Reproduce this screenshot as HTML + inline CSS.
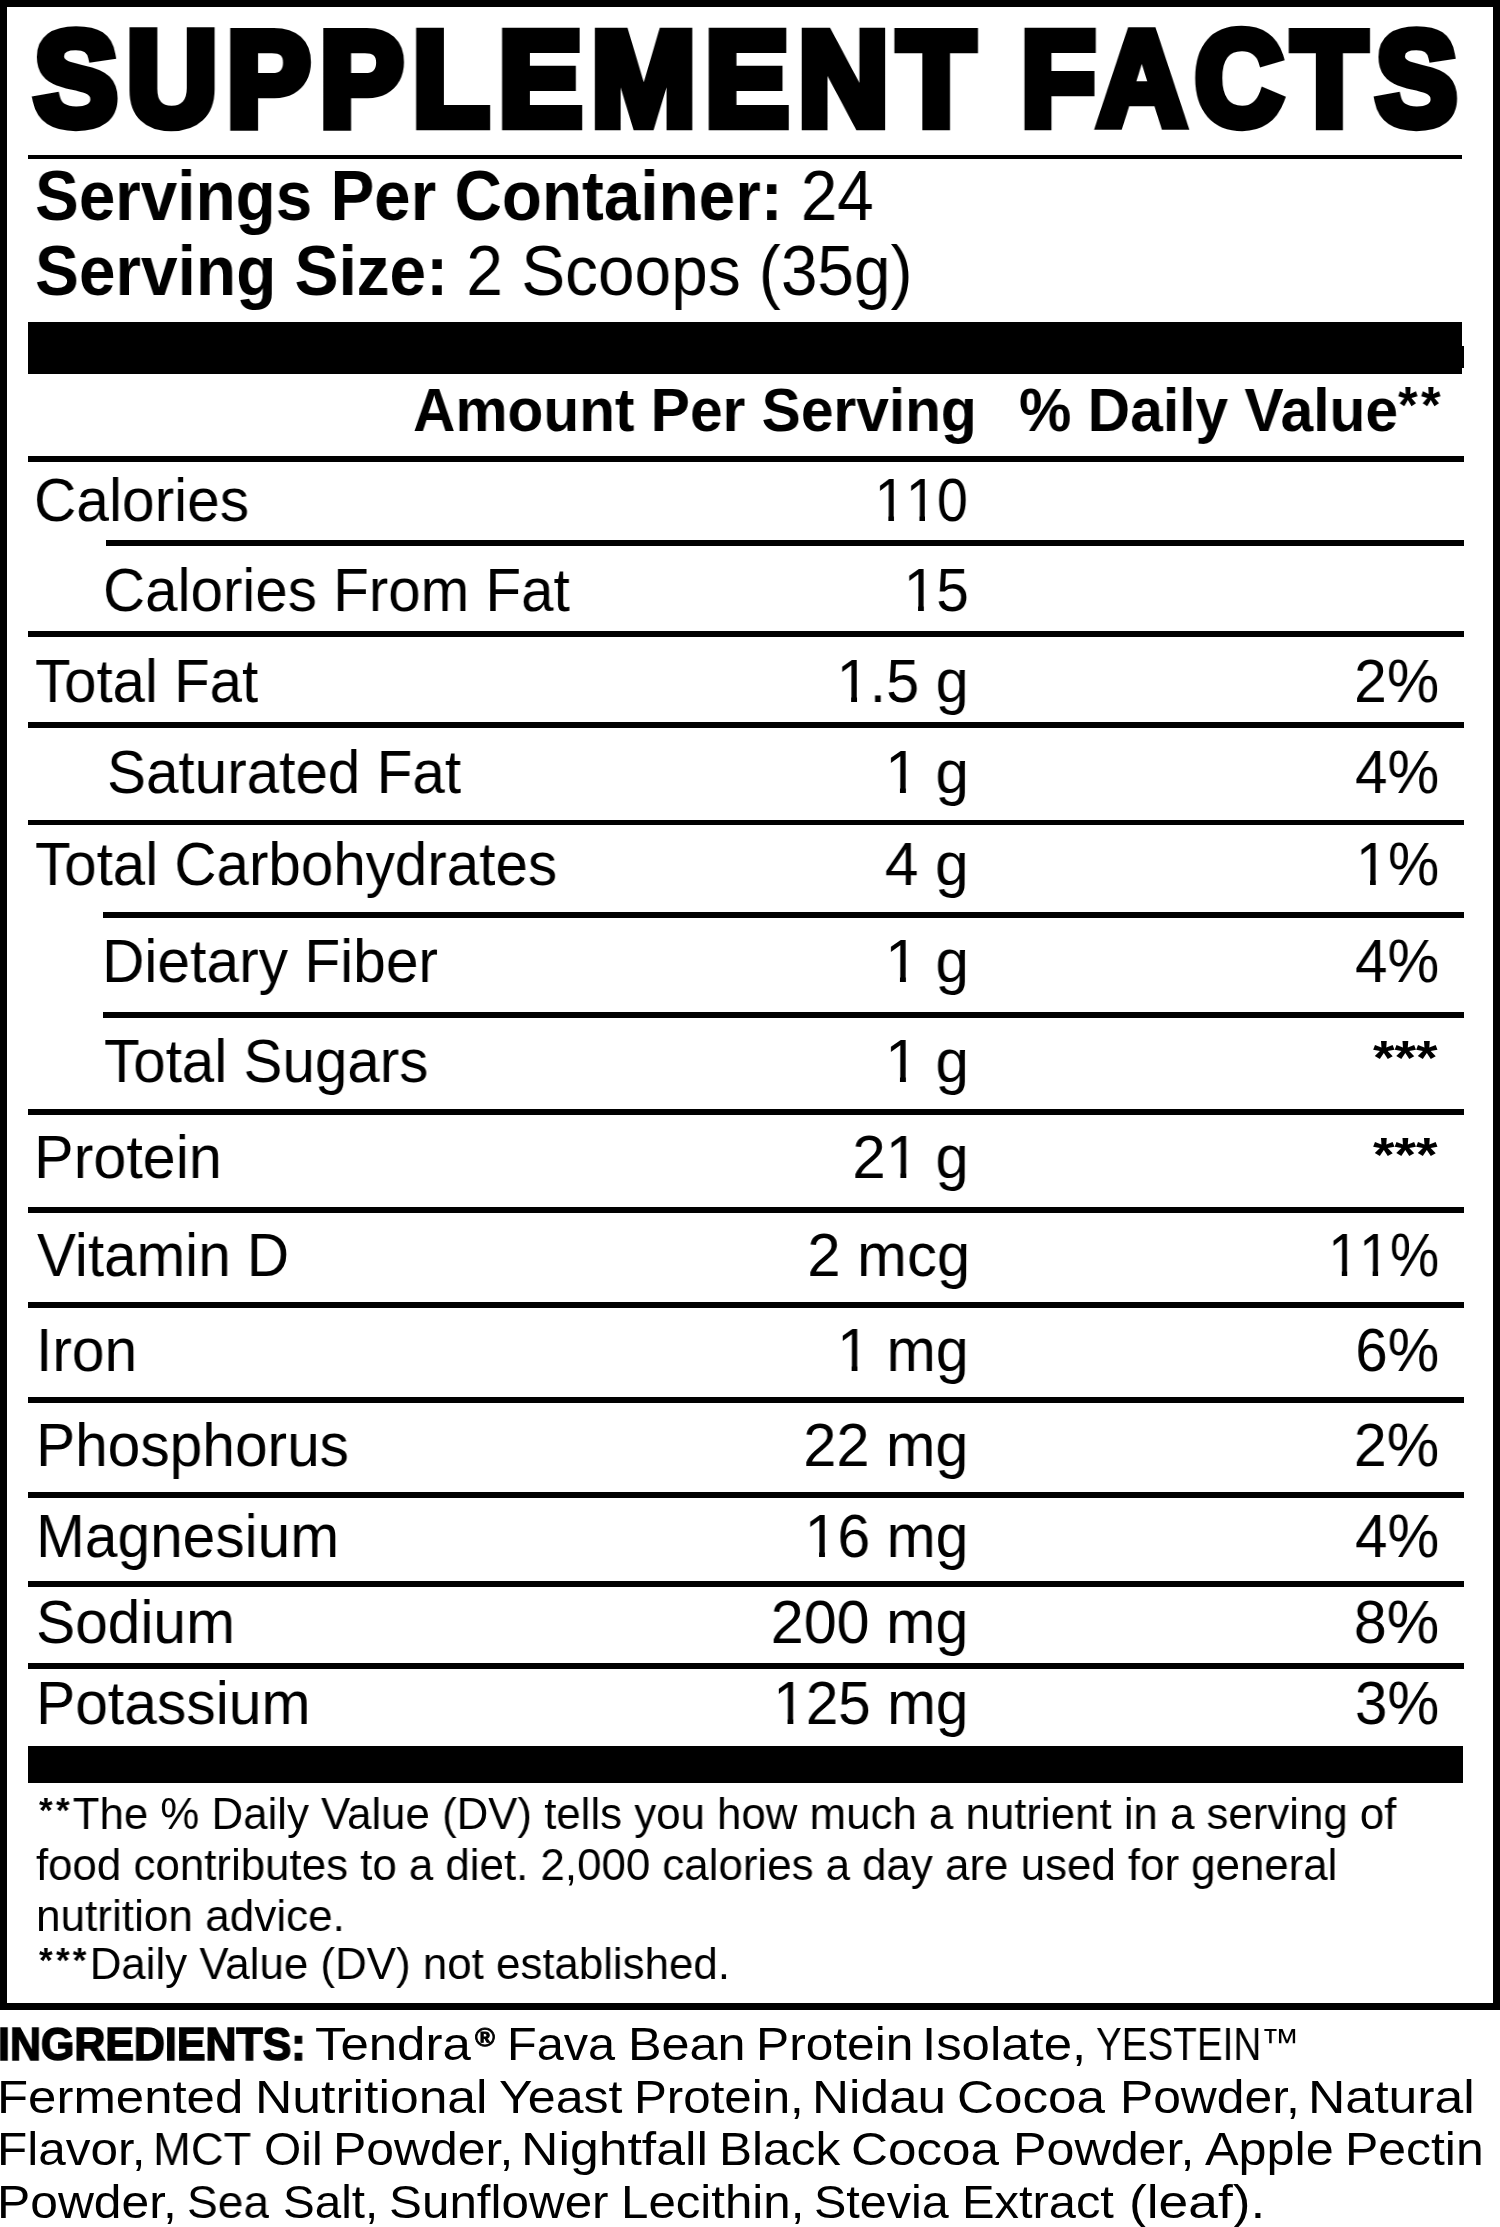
<!DOCTYPE html>
<html><head><meta charset="utf-8"><style>
html,body{margin:0;padding:0;background:#fff;width:1500px;height:2227px;overflow:hidden}
body{position:relative;font-family:"Liberation Sans",sans-serif;color:#000}
.t{position:absolute;white-space:nowrap;font-family:"Liberation Sans",sans-serif;will-change:transform}
.t b{font-weight:bold}
.r{position:absolute;background:#000}
.ast{font-weight:bold;font-size:0.8em;position:relative;top:-0.205em;letter-spacing:3.3px}
.ast2{font-size:0.852em;position:relative;top:-0.16em;letter-spacing:3.6px}
.one{display:inline-block;clip-path:polygon(-1em -1em,2em -1em,2em 0.74em,0.345em 0.74em,0.345em 2em,0.246em 2em,0.246em 0.74em,-1em 0.74em)}
</style></head><body>
<div style="position:absolute;left:0;top:0;width:1500px;height:2009.5px;border:7.5px solid #000;box-sizing:border-box"></div>
<div class="r" style="left:28.00px;top:155.00px;width:1434.00px;height:4.20px"></div>
<div class="r" style="left:28.00px;top:322.00px;width:1434.00px;height:52.00px"></div>
<div class="r" style="left:28.00px;top:456.30px;width:1435.60px;height:5.80px"></div>
<div class="r" style="left:106.00px;top:540.30px;width:1357.60px;height:5.80px"></div>
<div class="r" style="left:27.70px;top:631.20px;width:1435.90px;height:5.80px"></div>
<div class="r" style="left:27.70px;top:722.00px;width:1435.90px;height:5.80px"></div>
<div class="r" style="left:27.70px;top:819.70px;width:1435.90px;height:5.80px"></div>
<div class="r" style="left:103.00px;top:912.00px;width:1360.60px;height:5.80px"></div>
<div class="r" style="left:103.00px;top:1012.00px;width:1360.60px;height:5.80px"></div>
<div class="r" style="left:27.60px;top:1109.10px;width:1436.00px;height:5.80px"></div>
<div class="r" style="left:27.60px;top:1207.00px;width:1436.00px;height:5.80px"></div>
<div class="r" style="left:27.60px;top:1302.00px;width:1436.00px;height:5.80px"></div>
<div class="r" style="left:27.60px;top:1397.00px;width:1436.00px;height:5.80px"></div>
<div class="r" style="left:27.60px;top:1492.00px;width:1436.00px;height:5.80px"></div>
<div class="r" style="left:27.60px;top:1581.10px;width:1436.00px;height:5.80px"></div>
<div class="r" style="left:27.60px;top:1663.10px;width:1436.00px;height:5.80px"></div>
<div class="r" style="left:1462.00px;top:346.00px;width:1.60px;height:22.00px"></div>
<div class="r" style="left:27.90px;top:1746.00px;width:1435.60px;height:37.30px"></div>
<div class="t" style="font-size:132.80px;line-height:132.80px;top:13.16px;-webkit-text-stroke:10.30px #000;letter-spacing:9.80px;left:34.01px;transform:scaleX(0.9446);transform-origin:0 0;"><b>SUPPLEMENT</b></div>
<div class="t" style="font-size:132.80px;line-height:132.80px;top:13.16px;-webkit-text-stroke:10.30px #000;letter-spacing:9.80px;left:1020.88px;transform:scaleX(0.9189);transform-origin:0 0;"><b>FACTS</b></div>
<div class="t" style="font-size:70.00px;line-height:70.00px;top:161.33px;left:35.04px;transform:scaleX(0.9374);transform-origin:0 0;"><b>Servings Per Container:</b> 24</div>
<div class="t" style="font-size:70.00px;line-height:70.00px;top:236.33px;left:35.05px;transform:scaleX(0.9397);transform-origin:0 0;"><b>Serving Size:</b> 2 Scoops (35g)</div>
<div class="t" style="font-size:61.50px;line-height:61.50px;top:378.63px;left:412.80px;transform:scaleX(0.9537);transform-origin:0 0;"><b>Amount Per Serving</b></div>
<div class="t" style="font-size:61.50px;line-height:61.50px;top:378.63px;left:1018.57px;transform:scaleX(0.9561);transform-origin:0 0;"><b>% Daily Value<span class="ast2">**</span></b></div>
<div class="t" style="font-size:61.00px;line-height:61.00px;top:469.85px;left:33.93px;transform:scaleX(0.9614);transform-origin:0 0;">Calories</div>
<div class="t" style="font-size:61.00px;line-height:61.00px;top:469.85px;right:532.26px;transform:scaleX(0.9152);transform-origin:100% 0;"><span class="one">1</span><span class="one">1</span>0</div>
<div class="t" style="font-size:61.00px;line-height:61.00px;top:560.35px;left:103.29px;transform:scaleX(0.9561);transform-origin:0 0;">Calories From Fat</div>
<div class="t" style="font-size:61.00px;line-height:61.00px;top:560.35px;right:531.21px;transform:scaleX(0.9617);transform-origin:100% 0;"><span class="one">1</span>5</div>
<div class="t" style="font-size:61.00px;line-height:61.00px;top:650.65px;left:34.79px;transform:scaleX(0.9542);transform-origin:0 0;">Total Fat</div>
<div class="t" style="font-size:61.00px;line-height:61.00px;top:650.65px;right:531.28px;transform:scaleX(0.9742);transform-origin:100% 0;"><span class="one">1</span>.5 g</div>
<div class="t" style="font-size:61.00px;line-height:61.00px;top:650.65px;right:60.85px;transform:scaleX(0.9654);transform-origin:100% 0;">2%</div>
<div class="t" style="font-size:61.00px;line-height:61.00px;top:742.35px;left:106.97px;transform:scaleX(0.9579);transform-origin:0 0;">Saturated Fat</div>
<div class="t" style="font-size:61.00px;line-height:61.00px;top:742.35px;right:531.09px;transform:scaleX(0.9868);transform-origin:100% 0;"><span class="one">1</span> g</div>
<div class="t" style="font-size:61.00px;line-height:61.00px;top:742.35px;right:60.90px;transform:scaleX(0.9543);transform-origin:100% 0;">4%</div>
<div class="t" style="font-size:61.00px;line-height:61.00px;top:834.35px;left:34.99px;transform:scaleX(0.9563);transform-origin:0 0;">Total Carbohydrates</div>
<div class="t" style="font-size:61.00px;line-height:61.00px;top:834.35px;right:531.18px;transform:scaleX(0.9904);transform-origin:100% 0;">4 g</div>
<div class="t" style="font-size:61.00px;line-height:61.00px;top:834.35px;right:60.78px;transform:scaleX(0.9448);transform-origin:100% 0;"><span class="one">1</span>%</div>
<div class="t" style="font-size:61.00px;line-height:61.00px;top:931.15px;left:102.49px;transform:scaleX(0.9623);transform-origin:0 0;">Dietary Fiber</div>
<div class="t" style="font-size:61.00px;line-height:61.00px;top:931.15px;right:531.09px;transform:scaleX(0.9868);transform-origin:100% 0;"><span class="one">1</span> g</div>
<div class="t" style="font-size:61.00px;line-height:61.00px;top:931.15px;right:60.90px;transform:scaleX(0.9543);transform-origin:100% 0;">4%</div>
<div class="t" style="font-size:61.00px;line-height:61.00px;top:1030.85px;left:103.59px;transform:scaleX(0.9568);transform-origin:0 0;">Total Sugars</div>
<div class="t" style="font-size:61.00px;line-height:61.00px;top:1030.85px;right:531.09px;transform:scaleX(0.9868);transform-origin:100% 0;"><span class="one">1</span> g</div>
<div class="t" style="font-size:48.40px;line-height:48.40px;top:1033.32px;right:62.51px;transform:scaleX(1.1435);transform-origin:100% 0;"><b>***</b></div>
<div class="t" style="font-size:61.00px;line-height:61.00px;top:1127.15px;left:33.80px;transform:scaleX(0.9722);transform-origin:0 0;">Protein</div>
<div class="t" style="font-size:61.00px;line-height:61.00px;top:1127.15px;right:531.26px;transform:scaleX(0.9800);transform-origin:100% 0;">2<span class="one">1</span> g</div>
<div class="t" style="font-size:48.40px;line-height:48.40px;top:1129.62px;right:62.51px;transform:scaleX(1.1435);transform-origin:100% 0;"><b>***</b></div>
<div class="t" style="font-size:61.00px;line-height:61.00px;top:1224.95px;left:37.00px;transform:scaleX(0.9573);transform-origin:0 0;">Vitamin D</div>
<div class="t" style="font-size:61.00px;line-height:61.00px;top:1224.95px;right:530.26px;transform:scaleX(0.9802);transform-origin:100% 0;">2 mcg</div>
<div class="t" style="font-size:61.00px;line-height:61.00px;top:1224.95px;right:60.94px;transform:scaleX(0.9089);transform-origin:100% 0;"><span class="one">1</span><span class="one">1</span>%</div>
<div class="t" style="font-size:61.00px;line-height:61.00px;top:1320.35px;left:36.28px;transform:scaleX(0.9621);transform-origin:0 0;">Iron</div>
<div class="t" style="font-size:61.00px;line-height:61.00px;top:1320.35px;right:531.25px;transform:scaleX(0.9703);transform-origin:100% 0;"><span class="one">1</span> mg</div>
<div class="t" style="font-size:61.00px;line-height:61.00px;top:1320.35px;right:60.90px;transform:scaleX(0.9501);transform-origin:100% 0;">6%</div>
<div class="t" style="font-size:61.00px;line-height:61.00px;top:1415.35px;left:35.91px;transform:scaleX(0.9613);transform-origin:0 0;">Phosphorus</div>
<div class="t" style="font-size:61.00px;line-height:61.00px;top:1415.35px;right:531.34px;transform:scaleX(0.9748);transform-origin:100% 0;">22 mg</div>
<div class="t" style="font-size:61.00px;line-height:61.00px;top:1415.35px;right:60.85px;transform:scaleX(0.9681);transform-origin:100% 0;">2%</div>
<div class="t" style="font-size:61.00px;line-height:61.00px;top:1506.35px;left:35.99px;transform:scaleX(0.9613);transform-origin:0 0;">Magnesium</div>
<div class="t" style="font-size:61.00px;line-height:61.00px;top:1506.35px;right:531.32px;transform:scaleX(0.9672);transform-origin:100% 0;"><span class="one">1</span>6 mg</div>
<div class="t" style="font-size:61.00px;line-height:61.00px;top:1506.35px;right:60.90px;transform:scaleX(0.9543);transform-origin:100% 0;">4%</div>
<div class="t" style="font-size:61.00px;line-height:61.00px;top:1591.55px;left:36.11px;transform:scaleX(0.9622);transform-origin:0 0;">Sodium</div>
<div class="t" style="font-size:61.00px;line-height:61.00px;top:1591.55px;right:531.32px;transform:scaleX(0.9721);transform-origin:100% 0;">200 mg</div>
<div class="t" style="font-size:61.00px;line-height:61.00px;top:1591.55px;right:60.85px;transform:scaleX(0.9681);transform-origin:100% 0;">8%</div>
<div class="t" style="font-size:61.00px;line-height:61.00px;top:1673.25px;left:36.46px;transform:scaleX(0.9636);transform-origin:0 0;">Potassium</div>
<div class="t" style="font-size:61.00px;line-height:61.00px;top:1673.25px;right:531.32px;transform:scaleX(0.9601);transform-origin:100% 0;"><span class="one">1</span>25 mg</div>
<div class="t" style="font-size:61.00px;line-height:61.00px;top:1673.25px;right:60.88px;transform:scaleX(0.9554);transform-origin:100% 0;">3%</div>
<div class="t" style="font-size:44.50px;line-height:44.50px;top:1792.32px;left:38.60px;transform:scaleX(0.9844);transform-origin:0 0;"><span class="ast">**</span>The % Daily Value (DV) tells you how much a nutrient in a serving of</div>
<div class="t" style="font-size:44.50px;line-height:44.50px;top:1843.12px;left:36.30px;transform:scaleX(0.9852);transform-origin:0 0;">food contributes to a diet. 2,000 calories a day are used for general</div>
<div class="t" style="font-size:44.50px;line-height:44.50px;top:1893.82px;left:36.13px;transform:scaleX(0.9912);transform-origin:0 0;">nutrition advice.</div>
<div class="t" style="font-size:44.50px;line-height:44.50px;top:1941.82px;left:38.59px;transform:scaleX(0.9855);transform-origin:0 0;"><span class="ast">***</span>Daily Value (DV) not established.</div>
<div class="t" style="font-size:46.50px;line-height:46.50px;top:2020.63px;-webkit-text-stroke:1.60px #000;left:-1.52px;transform:scaleX(0.9230);transform-origin:0 0;"><b>INGREDIENTS:</b></div>
<div class="t" style="font-size:46.50px;line-height:46.50px;top:2020.63px;left:314.99px;transform:scaleX(1.0953);transform-origin:0 0;">Tendra</div>
<div class="t" style="font-size:46.50px;line-height:46.50px;top:2020.63px;left:506.84px;transform:scaleX(1.0459);transform-origin:0 0;">Fava</div>
<div class="t" style="font-size:46.50px;line-height:46.50px;top:2020.63px;left:628.19px;transform:scaleX(1.0820);transform-origin:0 0;">Bean</div>
<div class="t" style="font-size:46.50px;line-height:46.50px;top:2020.63px;left:755.80px;transform:scaleX(1.0681);transform-origin:0 0;">Protein</div>
<div class="t" style="font-size:46.50px;line-height:46.50px;top:2020.63px;left:922.06px;transform:scaleX(1.0953);transform-origin:0 0;">Isolate,</div>
<div class="t" style="font-size:46.50px;line-height:46.50px;top:2020.63px;left:1095.88px;transform:scaleX(0.8303);transform-origin:0 0;">YESTEIN</div>
<div class="t" style="font-size:46.50px;line-height:46.50px;top:2073.83px;left:-3.13px;transform:scaleX(1.0952);transform-origin:0 0;">Fermented</div>
<div class="t" style="font-size:46.50px;line-height:46.50px;top:2073.83px;left:255.26px;transform:scaleX(1.1110);transform-origin:0 0;">Nutritional</div>
<div class="t" style="font-size:46.50px;line-height:46.50px;top:2073.83px;left:499.05px;transform:scaleX(1.0776);transform-origin:0 0;">Yeast</div>
<div class="t" style="font-size:46.50px;line-height:46.50px;top:2073.83px;left:634.49px;transform:scaleX(1.0592);transform-origin:0 0;">Protein,</div>
<div class="t" style="font-size:46.50px;line-height:46.50px;top:2073.83px;left:811.76px;transform:scaleX(1.1029);transform-origin:0 0;">Nidau</div>
<div class="t" style="font-size:46.50px;line-height:46.50px;top:2073.83px;left:956.94px;transform:scaleX(1.1014);transform-origin:0 0;">Cocoa</div>
<div class="t" style="font-size:46.50px;line-height:46.50px;top:2073.83px;left:1120.32px;transform:scaleX(1.0701);transform-origin:0 0;">Powder,</div>
<div class="t" style="font-size:46.50px;line-height:46.50px;top:2073.83px;left:1308.38px;transform:scaleX(1.1126);transform-origin:0 0;">Natural</div>
<div class="t" style="font-size:46.50px;line-height:46.50px;top:2126.23px;left:-3.29px;transform:scaleX(1.0643);transform-origin:0 0;">Flavor,</div>
<div class="t" style="font-size:46.50px;line-height:46.50px;top:2126.23px;left:153.31px;transform:scaleX(0.9765);transform-origin:0 0;">MCT</div>
<div class="t" style="font-size:46.50px;line-height:46.50px;top:2126.23px;left:263.79px;transform:scaleX(1.0299);transform-origin:0 0;">Oil</div>
<div class="t" style="font-size:46.50px;line-height:46.50px;top:2126.23px;left:333.38px;transform:scaleX(1.0728);transform-origin:0 0;">Powder,</div>
<div class="t" style="font-size:46.50px;line-height:46.50px;top:2126.23px;left:520.98px;transform:scaleX(1.1134);transform-origin:0 0;">Nightfall</div>
<div class="t" style="font-size:46.50px;line-height:46.50px;top:2126.23px;left:718.81px;transform:scaleX(1.0659);transform-origin:0 0;">Black</div>
<div class="t" style="font-size:46.50px;line-height:46.50px;top:2126.23px;left:850.68px;transform:scaleX(1.1014);transform-origin:0 0;">Cocoa</div>
<div class="t" style="font-size:46.50px;line-height:46.50px;top:2126.23px;left:1013.28px;transform:scaleX(1.0797);transform-origin:0 0;">Powder,</div>
<div class="t" style="font-size:46.50px;line-height:46.50px;top:2126.23px;left:1204.50px;transform:scaleX(1.0830);transform-origin:0 0;">Apple</div>
<div class="t" style="font-size:46.50px;line-height:46.50px;top:2126.23px;left:1344.55px;transform:scaleX(1.0734);transform-origin:0 0;">Pectin</div>
<div class="t" style="font-size:46.50px;line-height:46.50px;top:2178.83px;left:-3.21px;transform:scaleX(1.0707);transform-origin:0 0;">Powder,</div>
<div class="t" style="font-size:46.50px;line-height:46.50px;top:2178.83px;left:186.95px;transform:scaleX(0.9913);transform-origin:0 0;">Sea</div>
<div class="t" style="font-size:46.50px;line-height:46.50px;top:2178.83px;left:283.42px;transform:scaleX(1.0230);transform-origin:0 0;">Salt,</div>
<div class="t" style="font-size:46.50px;line-height:46.50px;top:2178.83px;left:388.97px;transform:scaleX(1.0618);transform-origin:0 0;">Sunflower</div>
<div class="t" style="font-size:46.50px;line-height:46.50px;top:2178.83px;left:620.81px;transform:scaleX(1.0587);transform-origin:0 0;">Lecithin,</div>
<div class="t" style="font-size:46.50px;line-height:46.50px;top:2178.83px;left:813.97px;transform:scaleX(1.0429);transform-origin:0 0;">Stevia</div>
<div class="t" style="font-size:46.50px;line-height:46.50px;top:2178.83px;left:961.89px;transform:scaleX(1.0499);transform-origin:0 0;">Extract</div>
<div class="t" style="font-size:46.50px;line-height:46.50px;top:2178.83px;left:1129.32px;transform:scaleX(1.1463);transform-origin:0 0;">(leaf).</div>
<div class="t" style="font-size:26.00px;line-height:26.00px;top:2024.09px;-webkit-text-stroke:0.90px #000;left:475.00px;transform:scaleX(1.0379);transform-origin:0 0;"><b>®</b></div>
<div class="t" style="font-size:37.80px;line-height:37.80px;top:2024.49px;left:1260.99px;transform:scaleX(1.0241);transform-origin:0 0;">™</div>
</body></html>
